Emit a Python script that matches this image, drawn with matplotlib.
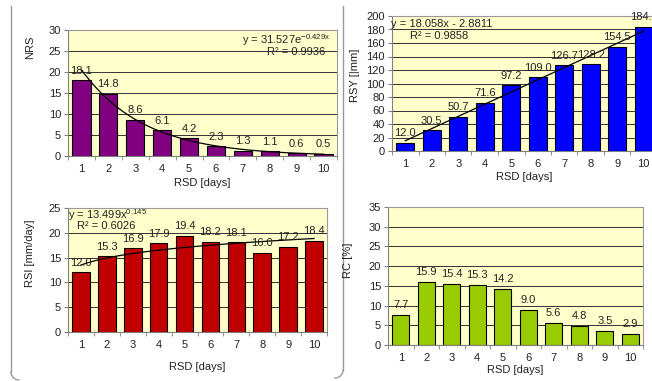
import numpy as np
import matplotlib
matplotlib.use("Agg")
import matplotlib.pyplot as plt
from matplotlib.lines import Line2D

plt.rcParams['font.family'] = ['Liberation Sans', 'DejaVu Sans']
plt.rcParams['mathtext.fontset'] = 'custom'
plt.rcParams['mathtext.rm'] = 'Liberation Sans'
plt.rcParams['mathtext.it'] = 'Liberation Sans'
plt.rcParams['mathtext.default'] = 'regular'

days = [1, 2, 3, 4, 5, 6, 7, 8, 9, 10]
nrs = [18.1, 14.8, 8.6, 6.1, 4.2, 2.3, 1.3, 1.1, 0.6, 0.5]
rsy = [12.0, 30.5, 50.7, 71.6, 97.2, 109.0, 126.7, 128.2, 154.5, 184.1]
rsi = [12.0, 15.3, 16.9, 17.9, 19.4, 18.2, 18.1, 16.0, 17.2, 18.4]
rc = [7.7, 15.9, 15.4, 15.3, 14.2, 9.0, 5.6, 4.8, 3.5, 2.9]

W, H = 652, 381
fig = plt.figure(figsize=(W / 100, H / 100), dpi=100)
fig.patch.set_facecolor('white')

def pos(l, r, t, b):
    return [l / W, 1 - b / H, (r - l) / W, (b - t) / H]

FS = 8
BG = '#FFFFCC'
GRID = '#333333'

def panel(rect, vals, color, ymax, ystep, ylabel, ylab_xy, xlab_y, fmt):
    ax = fig.add_axes(rect)
    ax.set_facecolor(BG)
    x = np.array(days)
    ax.bar(x, vals, width=0.68, color=color, edgecolor='black', linewidth=0.8, zorder=3)
    ax.set_xlim(0.5, 10.5)
    ax.set_ylim(0, ymax)
    yt = np.arange(0, ymax + 0.001, ystep)
    ax.set_yticks(yt)
    ax.set_yticklabels([f'{int(v)}' for v in yt], fontsize=FS, color='#222222')
    ax.yaxis.grid(True, color=GRID, linewidth=0.7, zorder=1)
    ax.set_axisbelow(True)
    ax.set_xticks(x)
    ax.set_xticklabels([str(d) for d in days], fontsize=FS, color='#222222')
    ax.tick_params(axis='x', which='major', length=0, pad=6)
    ax.set_xticks(np.arange(0.5, 10.6, 1.0), minor=True)
    ax.tick_params(axis='x', which='minor', length=3, color='#808080', direction='out')
    ax.tick_params(axis='y', length=3, color='#808080', pad=2)
    for s in ax.spines.values():
        s.set_color('#9A9A9A')
        s.set_linewidth(0.8)
    ax.spines['left'].set_color('#808080')
    ax.spines['bottom'].set_color('#808080')
    fig.text(ylab_xy[0] / W, 1 - ylab_xy[1] / H, ylabel, rotation=90,
             ha='center', va='center', fontsize=FS, color='#222222')
    xc = rect[0] + rect[2] / 2
    fig.text(xc, 1 - xlab_y / H, 'RSD [days]', ha='center', va='center',
             fontsize=FS, color='#222222')
    off = ymax * 0.035
    for xi, v in zip(x, vals):
        ax.text(xi, v + off, fmt.format(v), ha='center', va='bottom',
                fontsize=FS, color='#222222', zorder=5)
    return ax

# Top-left NRS
ax1 = panel(pos(68, 337, 30, 156), nrs, '#800080', 30, 5, 'NRS', (30, 47), 183, '{:.1f}')
xs = np.linspace(1, 10, 200)
ax1.plot(xs, 31.527 * np.exp(-0.429 * xs), color='black', linewidth=0.9, zorder=4)
fig.text(330 / W, 1 - 40 / H, r'y = 31.527e$^{-0.429x}$', ha='right', va='center', fontsize=FS, color='#222222')
fig.text(296 / W, 1 - 52 / H, 'R² = 0.9936', ha='center', va='center', fontsize=FS, color='#222222')

# Top-right RSY
ax2 = panel(pos(392, 657, 16, 151), rsy, '#0000FF', 200, 20, 'RSY [|mm]', (355, 75), 177, '{:.1f}')
ax2.plot(xs, 18.058 * xs - 2.8811, color='black', linewidth=0.9, zorder=4)
fig.text(391 / W, 1 - 24 / H, 'y = 18.058x - 2.8811', ha='left', va='center', fontsize=FS, color='#222222')
fig.text(410 / W, 1 - 36 / H, 'R² = 0.9858', ha='left', va='center', fontsize=FS, color='#222222')

# Bottom-left RSI
ax3 = panel(pos(68, 327, 208, 332), rsi, '#C00000', 25, 5, 'RSI [mm/day]', (30, 253), 367, '{:.1f}')
ax3.plot(xs, 13.499 * xs ** 0.145, color='black', linewidth=0.9, zorder=4)
fig.text(68 / W, 1 - 215 / H, r'y = 13.499x$^{0.145}$', ha='left', va='center', fontsize=FS, color='#222222')
fig.text(77 / W, 1 - 226 / H, 'R² = 0.6026', ha='left', va='center', fontsize=FS, color='#222222')

# Bottom-right RC
ax4 = panel(pos(388, 643, 207, 345), rc, '#99CC00', 35, 5, 'RC [%]', (348, 260), 370, '{:.1f}')

# Separator lines
def fl(xp, yp):
    fig.add_artist(Line2D([v / W for v in xp], [1 - v / H for v in yp],
                          color='#9A9A9A', linewidth=1.0, transform=fig.transFigure))

t = np.linspace(0, np.pi / 2, 20)
fl([11] * 2, [6, 372])
fl(list(11 + 8 * (1 - np.cos(t))), list(372 + 8 * np.sin(t)))
fl([343] * 2, [6, 370])
fl(list(343 - 8 * (1 - np.cos(t))), list(370 + 8 * np.sin(t)))

fig.savefig('out.png', dpi=100, facecolor='white')
